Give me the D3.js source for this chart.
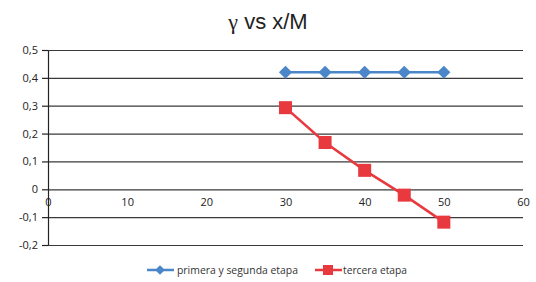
<!DOCTYPE html>
<html>
<head>
<meta charset="utf-8">
<script src="https://cdn.jsdelivr.net/npm/d3@7.9.0/dist/d3.min.js"></script>
<style>
  body { margin: 0; background: #fff; }
  svg { display: block; }
</style>
</head>
<body>
<div id="chart"></div>
<script>
const xValues = [30, 35, 40, 45, 50];
const primera = [0.42, 0.42, 0.42, 0.42, 0.42];
const tercera = [0.293, 0.168, 0.068, -0.021, -0.118];
const xTicks = [0, 10, 20, 30, 40, 50, 60];
const yTicks = [-0.2, -0.1, 0, 0.1, 0.2, 0.3, 0.4, 0.5];
const seriesNames = ['primera y segunda etapa', 'tercera etapa'];

const width = 536, height = 282;
const blue = '#4a86c8', red = '#e8393e';
const font = '"Open Sans", sans-serif';

const svg = d3.select('#chart').append('svg')
  .attr('width', width)
  .attr('height', height);

const x = d3.scaleLinear().domain([0, 60]).range([48, 523]);
const y = d3.scaleLinear().domain([-0.2, 0.5]).range([245, 50]);

// title
const title = svg.append('text')
  .attr('x', 268).attr('y', 29)
  .attr('text-anchor', 'middle')
  .style('font-family', 'Liberation Sans, Arial, sans-serif')
  .style('font-size', '22px')
  .attr('fill', '#222');
title.append('tspan').style('font-family', 'Liberation Serif, serif').text('γ');
title.append('tspan').text(' vs x/M');

// horizontal gridlines
svg.append('g')
  .attr('transform', `translate(${x(0)},0)`)
  .call(d3.axisLeft(y).tickValues(yTicks).tickFormat('').tickSize(-(x(60) - x(0))).tickSizeOuter(0))
  .call(g => g.select('.domain').remove())
  .call(g => g.selectAll('line').attr('stroke', '#3a3a3a').attr('stroke-width', 1.2));

// y axis
const fmt = d => d === 0 ? '0' : d3.format('.1f')(d).replace('.', ',').replace('−', '-');
svg.append('g')
  .attr('transform', `translate(${x(0)},0)`)
  .call(d3.axisLeft(y).tickValues(yTicks).tickFormat(fmt).tickSize(6).tickSizeOuter(0).tickPadding(4))
  .call(g => g.select('.domain').attr('stroke', '#222').attr('stroke-width', 1.2))
  .call(g => g.selectAll('line').attr('stroke', '#222').attr('stroke-width', 1.2))
  .call(g => g.selectAll('text').style('font-family', font).style('font-size', '11px').attr('fill', '#222'));

// x axis labels at y = 0
svg.append('g')
  .attr('transform', `translate(0,${y(0)})`)
  .call(d3.axisBottom(x).tickValues(xTicks).tickSize(0).tickPadding(9))
  .call(g => g.select('.domain').remove())
  .call(g => g.selectAll('text').style('font-family', font).style('font-size', '11px').attr('fill', '#222'));

const line = d3.line().x((d, i) => x(xValues[i])).y(d => y(d));

// tercera etapa
svg.append('path').datum(tercera)
  .attr('d', line).attr('fill', 'none')
  .attr('stroke', red).attr('stroke-width', 2.5);
svg.append('g').selectAll('rect').data(tercera).join('rect')
  .attr('x', (d, i) => x(xValues[i]) - 6.5)
  .attr('y', d => y(d) - 6.5)
  .attr('width', 13).attr('height', 13)
  .attr('fill', red);

// primera y segunda etapa
svg.append('path').datum(primera)
  .attr('d', line).attr('fill', 'none')
  .attr('stroke', blue).attr('stroke-width', 2.5);
const diamond = d3.symbol().type(d3.symbolDiamond2).size(110);
svg.append('g').selectAll('path').data(primera).join('path')
  .attr('d', diamond)
  .attr('transform', (d, i) => `translate(${x(xValues[i])},${y(d)})`)
  .attr('fill', blue);

// legend
const leg = svg.append('g').attr('transform', 'translate(0,270)');
leg.append('line').attr('x1', 147).attr('x2', 174).attr('y1', 0).attr('y2', 0)
  .attr('stroke', blue).attr('stroke-width', 2.5);
leg.append('path').attr('d', d3.symbol().type(d3.symbolDiamond2).size(60))
  .attr('transform', 'translate(160,0)').attr('fill', blue);
leg.append('text').attr('x', 177).attr('y', 3.5)
  .style('font-family', font).style('font-size', '10px').attr('fill', '#333')
  .attr('textLength', 121).attr('lengthAdjust', 'spacingAndGlyphs')
  .text(seriesNames[0]);
leg.append('line').attr('x1', 315).attr('x2', 342).attr('y1', 0).attr('y2', 0)
  .attr('stroke', red).attr('stroke-width', 2.5);
leg.append('rect').attr('x', 323).attr('y', -5).attr('width', 10).attr('height', 10).attr('fill', red);
leg.append('text').attr('x', 343).attr('y', 3.5)
  .style('font-family', font).style('font-size', '10px').attr('fill', '#333')
  .attr('textLength', 64).attr('lengthAdjust', 'spacingAndGlyphs')
  .text(seriesNames[1]);
</script>
</body>
</html>
